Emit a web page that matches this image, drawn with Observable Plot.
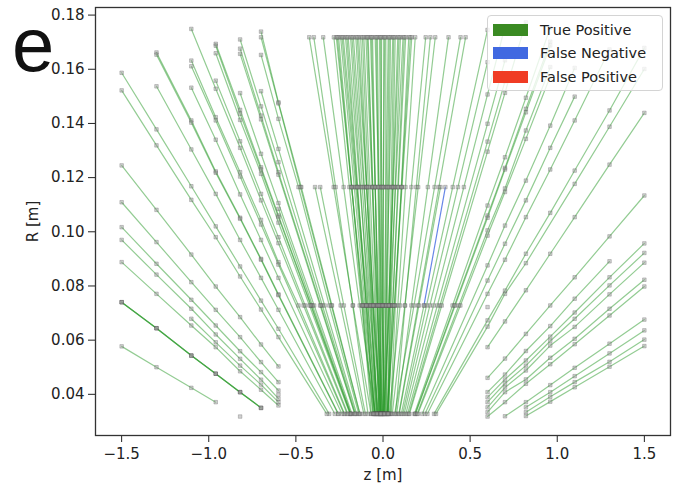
<!DOCTYPE html>
<html><head><meta charset="utf-8">
<script src="https://cdn.jsdelivr.net/npm/d3@7"></script>
<script src="https://cdn.jsdelivr.net/npm/@observablehq/plot@0.6"></script>
<style>
body{margin:0;background:#fff;}
#wrap{position:relative;width:673px;height:486px;overflow:hidden;background:#fff;}
#wrap svg.plot{display:block;}
#legend{position:absolute;left:487px;top:15px;width:176px;height:76px;background:rgba(255,255,255,0.8);border:1px solid #d4d4d4;border-radius:4px;box-sizing:border-box;font-family:"DejaVu Sans",sans-serif;font-size:14.5px;color:#222;}
#legend .patch{position:absolute;left:5px;width:35px;height:12px;}
#legend .lab{position:absolute;left:52px;line-height:18px;white-space:nowrap;}
#deco{position:absolute;left:0;top:0;}
</style></head><body><div id="wrap"></div>
<script>
// ---- axis ticks & legend ----
const xTicks = [-1.5, -1.0, -0.5, 0.0, 0.5, 1.0, 1.5];
const yTicks = [0.04, 0.06, 0.08, 0.10, 0.12, 0.14, 0.16, 0.18];
const legendLabels = ["True Positive", "False Negative", "False Positive"];
const legendColors = ["#3a8a22", "#4169e1", "#f03c24"];

// ---- barrel layer radii (m) ----
const barrelR = [0.0328, 0.0728, 0.1165, 0.1718];
// z of central tracks at each barrel layer
const zL1 = [-0.069,-0.086,-0.046,-0.058,-0.045,-0.067,-0.046,-0.029,-0.049,-0.026,-0.046,-0.012,-0.034,-0.021,-0.042,-0.021,-0.004,-0.024,-0.002,-0.021,0.011,-0.010,0.002,-0.020,0.001,0.018,-0.002,0.020,0.001,0.033,0.012,0.025,0.004,0.025,0.043,0.024,0.047,0.037,0.072,0.053,0.078,0.067,0.091,
  -0.056,-0.035,-0.054,-0.030,-0.012,-0.035,-0.009,-0.015,-0.013,0.007,-0.012,0.011,0.028,0.006,0.031,0.028];
const zL2 = [-0.172,-0.174,-0.134,-0.122,-0.110,-0.119,-0.103,-0.088,-0.096,-0.078,-0.085,-0.060,-0.068,-0.056,-0.065,-0.047,-0.033,-0.041,-0.024,-0.031,-0.008,-0.016,-0.005,-0.014,0.002,0.016,0.008,0.025,0.018,0.041,0.034,0.046,0.038,0.055,0.071,0.065,0.085,0.098,0.127,0.125,0.163,0.178,0.201,
  -0.115,-0.094,-0.096,-0.073,-0.054,-0.057,-0.034,-0.029,-0.020,0.000,-0.004,0.018,0.036,0.032,0.056,0.065];
const zL3 = [-0.283,-0.272,-0.226,-0.193,-0.180,-0.179,-0.165,-0.150,-0.148,-0.132,-0.129,-0.109,-0.107,-0.093,-0.093,-0.075,-0.062,-0.060,-0.045,-0.044,-0.024,-0.023,-0.012,-0.011,0.003,0.016,0.018,0.033,0.035,0.054,0.056,0.070,0.072,0.088,0.105,0.109,0.129,0.163,0.191,0.202,0.257,0.296,0.321,
  -0.180,-0.156,-0.145,-0.119,-0.095,-0.084,-0.058,-0.045,-0.028,-0.006,0.002,0.026,0.047,0.059,0.085,0.106];
const zL4 = [-0.423,-0.397,-0.343,-0.282,-0.268,-0.255,-0.243,-0.228,-0.215,-0.200,-0.186,-0.170,-0.156,-0.140,-0.128,-0.110,-0.098,-0.085,-0.072,-0.060,-0.045,-0.032,-0.020,-0.008,0.004,0.016,0.030,0.043,0.056,0.070,0.085,0.100,0.115,0.130,0.148,0.165,0.185,0.245,0.272,0.300,0.376,0.445,0.474,
  -0.262,-0.235,-0.207,-0.178,-0.148,-0.118,-0.090,-0.066,-0.038,-0.014,0.010,0.036,0.062,0.092,0.122,0.157];

// tracks reaching the 3rd barrel layer but leaving the barrel
const midTracks = [
  [[-0.110,0.0328],[-0.243,0.0728],[-0.390,0.1165]],
  [[-0.101,0.0328],[-0.225,0.0728],[-0.360,0.1165]],
  [[0.093,0.0328],[0.206,0.0728],[0.330,0.1165]],
  [[0.113,0.0328],[0.250,0.0728],[0.400,0.1165],[0.6,0.1745]],
  [[0.121,0.0328],[0.269,0.0728],[0.430,0.1165],[0.6,0.1626]],
  [[0.105,0.0328],[0.235,0.0728]]
];

// tracks into the negative-z endcap: [z, R] hits
const leftTracks = [
  [[-0.132,0.0328],[-0.293,0.0728],[-0.469,0.1165],[-0.6,0.1478],[-0.7,0.1739]],
  [[-0.133,0.0328],[-0.296,0.0728],[-0.474,0.1165],[-0.6,0.1474],[-0.7,0.1718]],
  [[-0.139,0.0328],[-0.308,0.0728],[-0.485,0.1165],[-0.6,0.1417],[-0.7,0.1653]],
  [[-0.151,0.0328],[-0.335,0.0728],[-0.6,0.1306],[-0.7,0.1519]],
  [[-0.157,0.0328],[-0.348,0.0728],[-0.6,0.1257],[-0.7,0.1463],[-0.82,0.1710]],
  [[-0.161,0.0328],[-0.357,0.0728],[-0.6,0.1220],[-0.7,0.1429],[-0.82,0.1676]],
  [[-0.162,0.0328],[-0.361,0.0728],[-0.6,0.1211],[-0.7,0.1415],[-0.82,0.1657]],
  [[-0.178,0.0328],[-0.395,0.0728],[-0.6,0.1106],[-0.7,0.1288],[-0.82,0.1512]],
  [[-0.183,0.0328],[-0.405,0.0728],[-0.6,0.1085]],
  [[-0.186,0.0328],[-0.412,0.0728],[-0.6,0.1060],[-0.7,0.1238],[-0.82,0.1450],[-0.96,0.1694]],
  [[-0.187,0.0328],[-0.414,0.0728],[-0.6,0.1054],[-0.7,0.1230],[-0.82,0.1436],[-0.96,0.1687]],
  [[-0.190,0.0328],[-0.422,0.0728],[-0.6,0.1034],[-0.7,0.1214],[-0.82,0.1413],[-0.96,0.1659]],
  [[-0.202,0.0328],[-0.447,0.0728],[-0.6,0.0980],[-0.7,0.1140],[-0.82,0.1334],[-0.96,0.1558]],
  [[-0.206,0.0328],[-0.456,0.0728],[-0.6,0.0958],[-0.7,0.1116],[-0.82,0.1310],[-0.96,0.1528],[-1.1,0.1749]],
  [[-0.221,0.0328],[-0.485,0.0728],[-0.6,0.0888],[-0.7,0.1044],[-0.82,0.1220],[-0.96,0.1423],[-1.1,0.1632]],
  [[-0.224,0.0328],[-0.6,0.0879],[-0.7,0.1027],[-0.82,0.1204],[-0.96,0.1411],[-1.1,0.1611]],
  [[-0.236,0.0328],[-0.6,0.0830],[-0.7,0.0970],[-0.82,0.1138],[-0.96,0.1340],[-1.1,0.1532]],
  [[-0.256,0.0328],[-0.6,0.0769],[-0.7,0.0900],[-0.82,0.1052],[-0.96,0.1223],[-1.1,0.1411],[-1.3,0.1662]],
  [[-0.258,0.0328],[-0.6,0.0766],[-0.7,0.0897],[-0.82,0.1048],[-0.96,0.1218],[-1.1,0.1403],[-1.3,0.1654]],
  [[-0.277,0.0328],[-0.6,0.0712],[-0.7,0.0830],[-0.82,0.0970],[-0.96,0.1140],[-1.1,0.1304],[-1.3,0.1537]],
  [[-0.309,0.0328],[-0.6,0.0642],[-0.7,0.0746],[-0.82,0.0872],[-0.96,0.1020],[-1.1,0.1168],[-1.3,0.1378],[-1.5,0.1587]],
  [[-0.323,0.0328],[-0.6,0.0611],[-0.7,0.0713],[-0.82,0.0835],[-0.96,0.0980],[-1.1,0.1118],[-1.3,0.1319],[-1.5,0.1522]],
  [[-0.6,0.0503],[-0.7,0.0584],[-0.82,0.0685],[-0.96,0.0798],[-1.1,0.0916],[-1.3,0.1081],[-1.5,0.1245]],
  [[-0.6,0.0445],[-0.7,0.0519],[-0.82,0.0611],[-0.96,0.0712],[-1.1,0.0814],[-1.3,0.0962],[-1.5,0.1109]],
  [[-0.6,0.0414],[-0.7,0.0482],[-0.82,0.0559],[-0.96,0.0654],[-1.1,0.0749],[-1.3,0.0882],[-1.5,0.1017]],
  [[-0.6,0.0384],[-0.7,0.0454],[-0.82,0.0531],[-0.96,0.0621],[-1.1,0.0716],[-1.3,0.0842],[-1.5,0.0970]],
  [[-0.6,0.0371],[-0.7,0.0436],[-0.82,0.0506],[-0.96,0.0592],[-1.1,0.0679]],
  [[-0.6,0.0359],[-0.7,0.0417],[-0.82,0.0485],[-0.96,0.0574],[-1.1,0.0654],[-1.3,0.0771],[-1.5,0.0888]],
  [[-0.7,0.0350],[-0.82,0.0408],[-0.96,0.0476],[-1.1,0.0543],[-1.3,0.0644],[-1.5,0.0740]],
  [[-0.7,0.0350],[-0.82,0.0408],[-0.96,0.0476],[-1.1,0.0543],[-1.3,0.0644],[-1.5,0.0740]],
  [[-0.7,0.0350],[-0.82,0.0408],[-0.96,0.0476],[-1.1,0.0543],[-1.3,0.0644],[-1.5,0.0740]],
  [[-0.96,0.0371],[-1.1,0.0424],[-1.3,0.0500],[-1.5,0.0577]]
];

// tracks into the positive-z endcap
const rightTracks = [
  [[0.131,0.0328],[0.290,0.0728],[0.464,0.1165],[0.6,0.1507],[0.7,0.1757]],
  [[0.141,0.0328],[0.312,0.0728],[0.6,0.1399],[0.7,0.1633]],
  [[0.148,0.0328],[0.327,0.0728],[0.6,0.1333],[0.7,0.1555]],
  [[0.152,0.0328],[0.337,0.0728],[0.6,0.1296],[0.7,0.1513],[0.82,0.1773]],
  [[0.180,0.0328],[0.399,0.0728],[0.6,0.1097],[0.7,0.1275],[0.82,0.1495],[0.96,0.1753]],
  [[0.185,0.0328],[0.410,0.0728],[0.6,0.1060],[0.7,0.1236],[0.82,0.1454],[0.96,0.1702]],
  [[0.186,0.0328],[0.414,0.0728],[0.6,0.1052],[0.7,0.1230],[0.82,0.1441],[0.96,0.1688]],
  [[0.196,0.0328],[0.435,0.0728],[0.6,0.1005],[0.7,0.1160],[0.82,0.1374],[0.96,0.1608]],
  [[0.200,0.0328],[0.444,0.0728],[0.6,0.0986],[0.7,0.1147],[0.82,0.1343],[0.96,0.1574]],
  [[0.225,0.0328],[0.6,0.0876],[0.7,0.1023],[0.82,0.1189],[0.96,0.1392],[1.1,0.1605]],
  [[0.241,0.0328],[0.6,0.0820],[0.7,0.0956],[0.82,0.1116],[0.96,0.1310],[1.1,0.1499]],
  [[0.255,0.0328],[0.6,0.0771],[0.7,0.0897],[0.82,0.1054],[0.96,0.1230],[1.1,0.1411],[1.3,0.1673]],
  [[0.293,0.0328],[0.6,0.0673],[0.7,0.0783],[0.82,0.0919],[0.96,0.1070],[1.1,0.1226],[1.3,0.1448],[1.5,0.1679]],
  [[0.304,0.0328],[0.6,0.0650],[0.7,0.0771],[0.82,0.0884],[1.1,0.1177],[1.3,0.1388],[1.5,0.1601]],
  [[0.6,0.0574],[0.7,0.0669],[0.82,0.0784],[0.96,0.0919],[1.1,0.1054],[1.3,0.1248],[1.5,0.1439]],
  [[0.6,0.0461],[0.7,0.0532],[0.82,0.0623],[0.96,0.0728],[1.1,0.0832],[1.3,0.0983],[1.5,0.1134]],
  [[0.6,0.0408],[0.7,0.0473],[0.82,0.0560],[0.96,0.0652],[1.1,0.0753],[1.3,0.0891]],
  [[0.6,0.0389],[0.7,0.0455],[0.82,0.0525],[0.96,0.0613],[1.1,0.0702],[1.3,0.0832],[1.5,0.0957]],
  [[0.6,0.0371],[0.7,0.0440],[0.82,0.0506],[0.96,0.0597],[1.1,0.0679],[1.3,0.0802],[1.5,0.0922]],
  [[0.6,0.0352],[0.7,0.0425],[0.82,0.0488],[0.96,0.0580],[1.1,0.0649],[1.3,0.0769],[1.5,0.0886]],
  [[0.6,0.0334],[0.7,0.0408],[0.82,0.0455],[0.96,0.0535],[1.1,0.0605],[1.3,0.0716],[1.5,0.0823]],
  [[0.6,0.0318],[0.7,0.0371],[0.82,0.0439],[0.96,0.0511],[1.1,0.0585],[1.3,0.0691],[1.5,0.0798]],
  [[0.7,0.0319],[0.82,0.0371],[0.96,0.0434],[1.1,0.0498],[1.3,0.0587],[1.5,0.0676]],
  [[0.82,0.0352],[0.96,0.0408],[1.1,0.0467],[1.3,0.0551],[1.5,0.0636]],
  [[0.82,0.0334],[0.96,0.0391],[1.1,0.0445],[1.3,0.0520],[1.5,0.0602]],
  [[0.82,0.0320],[0.96,0.0373],[1.1,0.0426],[1.3,0.0502],[1.5,0.0578]]
];

// false-negative edge(s)
const fnEdges = [
  [[0.235,0.0728],[0.358,0.1165]]
];
// hits without a drawn edge
const loneHits = [[-0.82,0.0318],[-0.6,0.0399],[0.6,0.0722]];

// ---- build tables ----
const tpRows = [], fnRows = [], hitRows = [];
let tid = 0;
function addTrack(hits, target) {
  const t = tid++;
  for (const [z, R] of hits) { target.push({t, z, R}); hitRows.push({z, R}); }
}
zL4.forEach((_, i) => addTrack([[zL1[i], barrelR[0]], [zL2[i], barrelR[1]], [zL3[i], barrelR[2]], [zL4[i], barrelR[3]]], tpRows));
midTracks.forEach(h => addTrack(h, tpRows));
leftTracks.forEach(h => addTrack(h, tpRows));
rightTracks.forEach(h => addTrack(h, tpRows));
fnEdges.forEach(h => addTrack(h, fnRows));
loneHits.forEach(([z, R]) => hitRows.push({z, R}));

const plot = Plot.plot({
  width: 673, height: 486,
  marginLeft: 95, marginRight: 3, marginTop: 7, marginBottom: 51,
  style: {fontFamily: "'DejaVu Sans', sans-serif", fontSize: "15px", color: "#222", background: "white"},
  x: {domain: [-1.65, 1.65], ticks: xTicks, tickFormat: d3.format(".1f"), tickSize: 7, tickPadding: 6,
      label: "z [m]", labelAnchor: "center", labelArrow: "none", labelOffset: 44},
  y: {domain: [0.0248, 0.1828], ticks: yTicks, tickFormat: d3.format(".2f"), tickSize: 7, tickPadding: 4,
      label: "R [m]", labelAnchor: "center", labelArrow: "none", labelOffset: 68},
  marks: [
    Plot.line(tpRows, {x: "z", y: "R", z: "t", stroke: "#279a27", strokeOpacity: 0.5, strokeWidth: 1.2}),
    Plot.line(fnRows, {x: "z", y: "R", z: "t", stroke: "#4169e1", strokeOpacity: 0.8, strokeWidth: 1.2}),
    Plot.dot(hitRows, {x: "z", y: "R", symbol: "square", r: 2, fill: "#9a9a9a", fillOpacity: 0.45, stroke: "#555", strokeOpacity: 0.5, strokeWidth: 0.6}),
    Plot.frame({stroke: "#333", strokeWidth: 1.3})
  ]
});

const wrap = document.getElementById("wrap");
wrap.appendChild(plot);

// large partial slide text at top-left
const ns = "http://www.w3.org/2000/svg";
const deco = document.createElementNS(ns, "svg");
deco.setAttribute("id", "deco"); deco.setAttribute("width", "90"); deco.setAttribute("height", "100");
const et = document.createElementNS(ns, "text");
et.setAttribute("x", "12"); et.setAttribute("y", "71");
et.setAttribute("font-family", "'Liberation Sans', Arial, sans-serif");
et.setAttribute("font-size", "76"); et.setAttribute("fill", "#111");
et.textContent = "e";
deco.appendChild(et);
wrap.appendChild(deco);

// legend
const lg = document.createElement("div");
lg.id = "legend";
const rowsY = [14, 37, 60.5];
legendLabels.forEach((lab, i) => {
  const p = document.createElement("div");
  p.className = "patch"; p.style.top = (rowsY[i] - 6) + "px"; p.style.background = legendColors[i];
  lg.appendChild(p);
  const s = document.createElement("div");
  s.className = "lab"; s.style.top = (rowsY[i] - 9) + "px"; s.textContent = lab;
  lg.appendChild(s);
});
wrap.appendChild(lg);
</script></body></html>
